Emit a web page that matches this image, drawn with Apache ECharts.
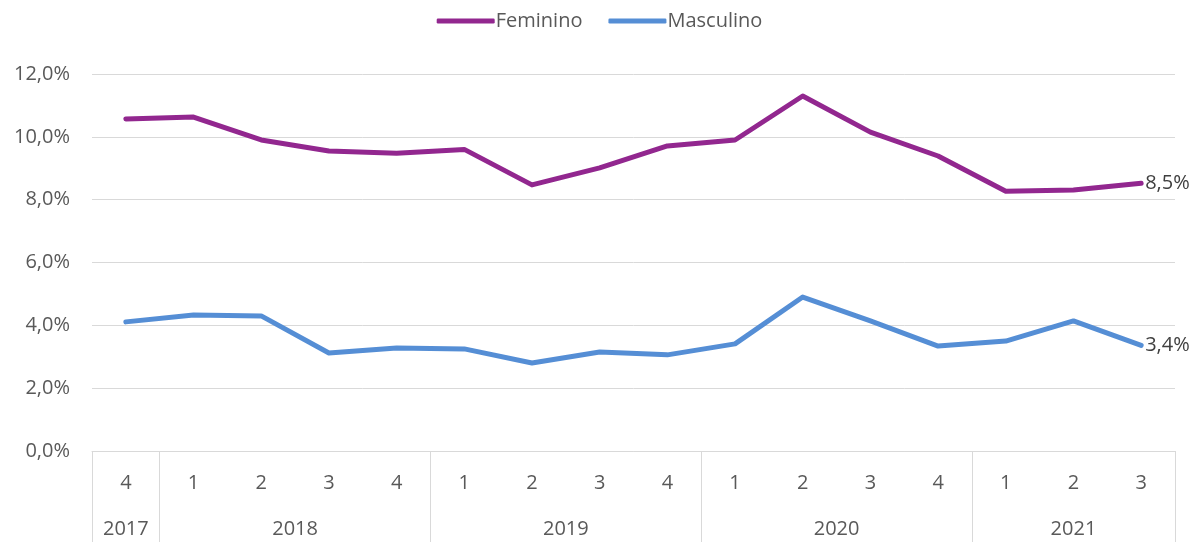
<!DOCTYPE html>
<html><head><meta charset="utf-8">
<script src="https://cdn.jsdelivr.net/npm/echarts@6/dist/echarts.min.js"></script>
<style>html,body{margin:0;padding:0;background:#fff}#c{width:1199px;height:542px}</style>
</head><body><div id="c"></div>
<script>
const quarters = ['4','1','2','3','4','1','2','3','4','1','2','3','4','1','2','3'];
const years = ['2017','2018','2019','2020','2021'];
const yearStart = [0,1,5,9,13];
const yearEnd = [1,5,9,13,16];
const feminino = [10.57,10.63,9.90,9.55,9.48,9.60,8.47,9.01,9.71,9.90,11.30,10.15,9.39,8.27,8.31,8.52];
const masculino = [4.11,4.33,4.30,3.12,3.28,3.25,2.80,3.15,3.06,3.41,4.90,4.14,3.34,3.50,4.14,3.36];

const fmt = v => v.toFixed(1).replace('.', ',') + '%';
const font = 'Open Sans, Liberation Sans, sans-serif';
const fs = 20;
const yearCenters = yearStart.map((s,i)=>(s+yearEnd[i])/2);
const boundaries = yearStart.concat([yearEnd[yearEnd.length-1]]);

const chart = echarts.init(document.getElementById('c'));
chart.setOption({
  animation:false,
  textStyle:{fontFamily:font},
  legend:{top:6,left:'center',itemWidth:58,itemHeight:5,itemGap:26,icon:'roundRect',
    textStyle:{fontSize:fs,color:'#595959',fontFamily:font,padding:[0,0,0,-4]},
    data:['Feminino','Masculino']},
  grid:{left:92,right:24,top:74,bottom:91},
  xAxis:[
    {type:'category',data:quarters,boundaryGap:true,
      axisLine:{lineStyle:{color:'#d9d9d9',width:1}},axisTick:{show:false},
      axisLabel:{color:'#595959',fontSize:fs,margin:22,interval:0,fontFamily:font}},
    {type:'value',min:0,max:quarters.length,position:'bottom',
      axisLine:{show:false},splitLine:{show:false},
      axisTick:{show:true,inside:false,length:91,customValues:boundaries,lineStyle:{color:'#d9d9d9',width:1}},
      axisLabel:{show:true,customValues:yearCenters,margin:68,color:'#595959',fontSize:fs,fontFamily:font,
        formatter:function(v){const i=yearCenters.indexOf(v);return i>=0?years[i]:'';}}}
  ],
  yAxis:{type:'value',min:0,max:12,interval:2,
    axisLine:{show:false},axisTick:{show:false},
    splitLine:{lineStyle:{color:'#d9d9d9',width:1}},
    axisLabel:{formatter:fmt,color:'#595959',fontSize:fs,margin:22,fontFamily:font}},
  series:[
    {name:'Feminino',type:'line',data:feminino,symbol:'none',
      lineStyle:{width:5,color:'#92278f',cap:'round',join:'round'},itemStyle:{color:'#92278f'},
      endLabel:{show:true,formatter:p=>fmt(p.value),fontSize:fs,color:'#404040',distance:4,fontFamily:font}},
    {name:'Masculino',type:'line',data:masculino,symbol:'none',
      lineStyle:{width:5,color:'#558ed5',cap:'round',join:'round'},itemStyle:{color:'#558ed5'},
      endLabel:{show:true,formatter:p=>fmt(p.value),fontSize:fs,color:'#404040',distance:4,fontFamily:font}}
  ]
});
</script></body></html>
